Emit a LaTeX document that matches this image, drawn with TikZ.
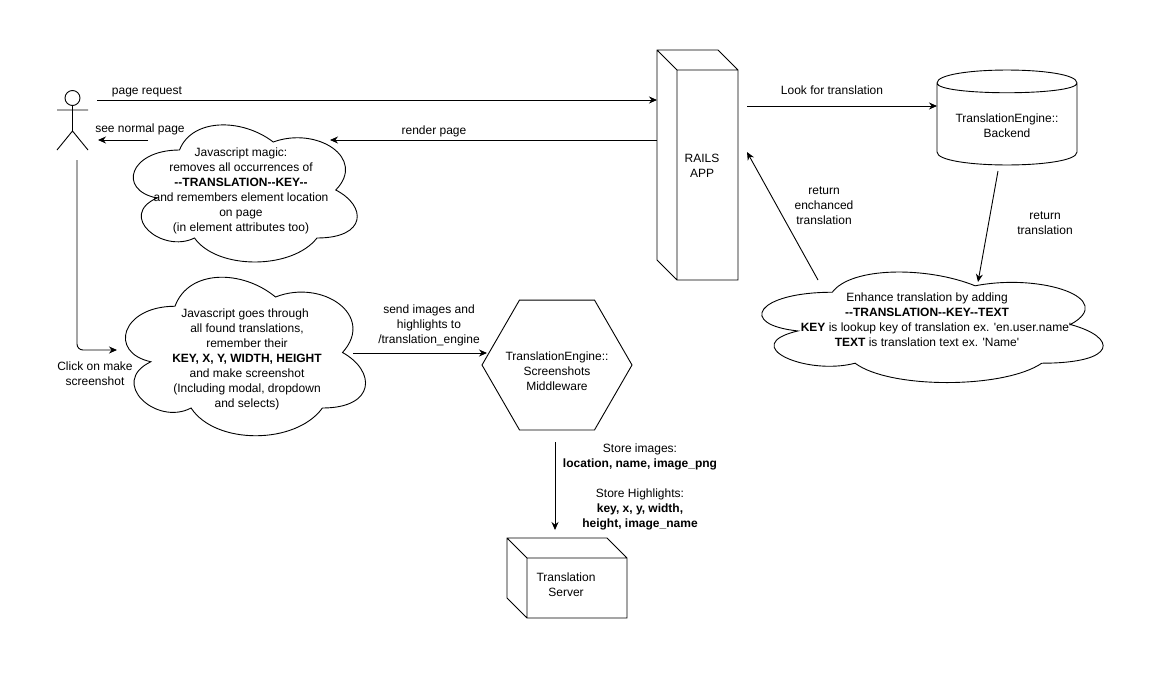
\documentclass[tikz,border=0pt]{standalone}
\usepackage{fontspec}
\newfontfamily\appfont{Liberation Sans}
\usetikzlibrary{positioning,arrows.meta,shapes.geometric,calc}

% x y w h of the whole box, the puffs stay inside it
\newcommand{\cloudpath}[4]{%
  \draw[shift={(#1,#2)}, x=#3pt, y=-#4pt]
    (0.25,0.25) .. controls (0.05,0.25) and (0,0.5) .. (0.16,0.55)
    .. controls (0,0.66) and (0.18,0.9) .. (0.31,0.8)
    .. controls (0.4,1) and (0.7,1) .. (0.8,0.8)
    .. controls (1,0.8) and (1,0.6) .. (0.875,0.5)
    .. controls (1,0.3) and (0.8,0.1) .. (0.625,0.2)
    .. controls (0.5,0.05) and (0.3,0.05) .. cycle;}
\newcommand{\cubepath}[1]{%
  \draw (#1.north west) -- ($(#1.north east)+(-20,0)$) -- ($(#1.north east)+(0,20)$)
    -- (#1.south east) -- ($(#1.south west)+(20,0)$) -- ($(#1.south west)+(0,-20)$) -- cycle
    (#1.north west) -- ($(#1.north west)+(20,20)$) -- ($(#1.north east)+(0,20)$)
    ($(#1.north west)+(20,20)$) -- ($(#1.south west)+(20,0)$);}

\begin{document}
\begin{tikzpicture}[
  x=1pt, y=-1pt,
  font=\appfont\fontsize{12}{15}\selectfont, >={Stealth[length=8pt,width=7pt]},
  line width=0.9pt,
  txt/.style={align=center, inner sep=0pt},
  area/.style={inner sep=0pt, outer sep=0pt},
  arr/.style={->},
]
\useasboundingbox[fill=white] (0,0) rectangle (1169,672);

% actor
\node[draw, circle, area, minimum size=15pt] (head) at (72.5,98) {};
\coordinate (hip) at (72.5,131);
\draw (head.south) -- (hip) (57,110) -- (88,110) (57,150) -- (hip) -- (88,150);

% clouds
\cloudpath{117}{110}{250}{160}
\node[txt] (magic) at (241,191) {Javascript magic:\\removes all occurrences of\\\textbf{--TRANSLATION--KEY--}\\and remembers element location\\on page\\(in element attributes too)};
\cloudpath{108}{260}{268}{185}
\node[txt] (shots) at (247,359.5) {Javascript goes through\hspace*{4pt}\\ all found translations,\\remember their\\\textbf{KEY, X, Y, WIDTH, HEIGHT}\\and make screenshot\\(Including modal, dropdown\\and selects)};
\cloudpath{737}{260}{381}{129}
\node[txt] (enhance) at (927,320) {Enhance translation by adding\\\textbf{--TRANSLATION--KEY--TEXT}\\\hspace*{18pt}\textbf{KEY} is lookup key of translation ex. 'en.user.name'\\\textbf{TEXT} is translation text ex. 'Name'};

% rails box
\node[area, minimum width=81pt, minimum height=230pt] (rails) at (697.5,165) {};
\cubepath{rails}
\node[txt] (railstext) at (702,166) {RAILS\\APP};

% backend
\node[area, minimum width=140pt, minimum height=95pt] (backend) at (1007,117.5) {};
\draw ($(backend.north west)+(0,13)$) .. controls ($(backend.north west)+(0,-4.3)$) and ($(backend.north east)+(0,-4.3)$) .. ($(backend.north east)+(0,13)$)
  -- ($(backend.south east)+(0,-13)$) .. controls ($(backend.south east)+(0,4.3)$) and ($(backend.south west)+(0,4.3)$) .. ($(backend.south west)+(0,-13)$) -- cycle
  ($(backend.north west)+(0,13)$) .. controls ($(backend.north west)+(0,26)$) and ($(backend.north east)+(0,26)$) .. ($(backend.north east)+(0,13)$);
\node[txt] (backendtext) at (1007,126) {TranslationEngine::\\Backend};

% middleware and server
\node[draw, regular polygon, regular polygon sides=6, area, minimum size=150pt] (middleware) at (557,365) {};
\node[txt] (middlewaretext) at (557,371.5) {TranslationEngine::\\Screenshots\\Middleware};
\node[area, minimum width=120pt, minimum height=80pt] (server) at (567,578) {};
\cubepath{server}
\node[txt] (servertext) at (566,584.5) {Translation\\Server};

% free ends
\coordinate (reqfrom) at (97,100);
\coordinate (seefrom) at (148,140);
\coordinate (seeto) at (98,140);
\coordinate (renderto) at (330,140);
\coordinate (lookfrom) at (747,106);
\coordinate (clickfrom) at (77,160);
\coordinate (clickto) at (117,350);
\coordinate (sendfrom) at (353,353);
\coordinate (storefrom) at (555,442);
\coordinate (storeto) at (555,530);
\coordinate (retfrom) at (998,171);
\coordinate (retto) at (978,282);
\coordinate (enchfrom) at (818,280);
\coordinate (enchto) at (747,152);

\draw[arr] (reqfrom) -- (reqfrom -| rails.west);
\draw[arr] (seefrom) -- (seeto);
\draw[arr] (seefrom -| rails.west) -- (renderto);
\draw[arr] (lookfrom) -- (lookfrom -| backend.west);
\draw[arr, rounded corners=6pt] (clickfrom) |- (clickto);
\draw[arr] (sendfrom) -- (sendfrom -| 487,0);
\draw[arr] (storefrom) -- (storeto);
\draw[arr] (retfrom) -- (retto);
\draw[arr] (enchfrom) -- (enchto);

% labels
\node[txt] (reqlabel) at (147,92) {page request};
\node[txt] (seelabel) at (140,129) {see normal page};
\node[txt] (renderlabel) at (434,131) {render page};
\node[txt] (looklabel) at (832,90) {Look for translation};
\node[txt] (enchlabel) at (824,206) {return\\enchanced\\translation};
\node[txt] (retlabel) at (1045,223) {return\\translation};
\node[txt] (clicklabel) at (95,374) {Click on make\\screenshot};
\node[txt] (sendlabel) at (429,325.5) {send images and\\highlights to\\/translation\_engine};
\node[txt] (storelabel) at (640,486.5) {Store images:\\\textbf{location, name, image\_png}\\[15pt]Store Highlights:\\\textbf{key, x, y, width,}\\\textbf{height, image\_name}};
\end{tikzpicture}
\end{document}
